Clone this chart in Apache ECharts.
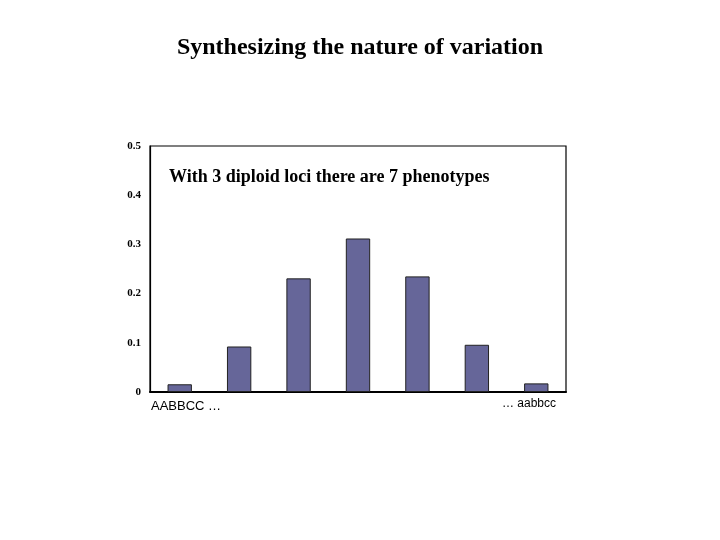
<!DOCTYPE html>
<html><head><meta charset="utf-8">
<script src="https://cdn.jsdelivr.net/npm/echarts@6/dist/echarts.min.js"></script>
<style>html,body{margin:0;padding:0;background:#fff}#c{width:720px;height:540px}</style>
</head><body><div id="c"></div>
<script>
const categories = ['AABBCC', 'g2', 'g3', 'g4', 'g5', 'g6', 'aabbcc'];
const frequencies = [0.0157, 0.0925, 0.231, 0.312, 0.235, 0.096, 0.0175];
const yTicks = [0, 0.1, 0.2, 0.3, 0.4, 0.5];
const chart = echarts.init(document.getElementById('c'));
chart.setOption({
  backgroundColor: '#fff',
  animation: false,
  title: {
    text: 'Synthesizing the nature of variation',
    left: 'center', top: 31,
    textStyle: { fontFamily: 'Liberation Serif', fontWeight: 'bold', fontSize: 24, color: '#000' }
  },
  grid: { left: 150, right: 154, top: 146, bottom: 148, show: true, borderColor: '#000', borderWidth: 1.2, backgroundColor: '#fff' },
  xAxis: {
    type: 'category', data: categories,
    axisLine: { lineStyle: { color: '#000', width: 2 } },
    axisTick: { show: false }, axisLabel: { show: false }
  },
  yAxis: {
    type: 'value', min: yTicks[0], max: yTicks[yTicks.length - 1], interval: 0.1,
    splitLine: { show: false },
    axisLine: { show: true, lineStyle: { color: '#000', width: 1.2 } },
    axisTick: { show: false },
    axisLabel: { margin: 9, fontFamily: 'Liberation Serif', fontWeight: 'bold', fontSize: 11, color: '#000',
      formatter: v => String(Math.round(v * 10) / 10) }
  },
  series: [{
    type: 'bar', data: frequencies, barWidth: '41%',
    itemStyle: { color: '#666699', borderColor: '#222', borderWidth: 1 }
  }],
  graphic: [
    { type: 'text', left: 169, top: 168, style: { text: 'With 3 diploid loci there are 7 phenotypes',
      font: 'bold 18px "Liberation Serif"', fill: '#000' } },
    { type: 'text', left: 151, top: 400, style: { text: 'AABBCC …', font: '13px "Liberation Sans"', fill: '#000' } },
    { type: 'text', right: 164, top: 398, style: { text: '… aabbcc', font: '12px "Liberation Sans"', fill: '#000' } }
  ]
});
</script></body></html>
